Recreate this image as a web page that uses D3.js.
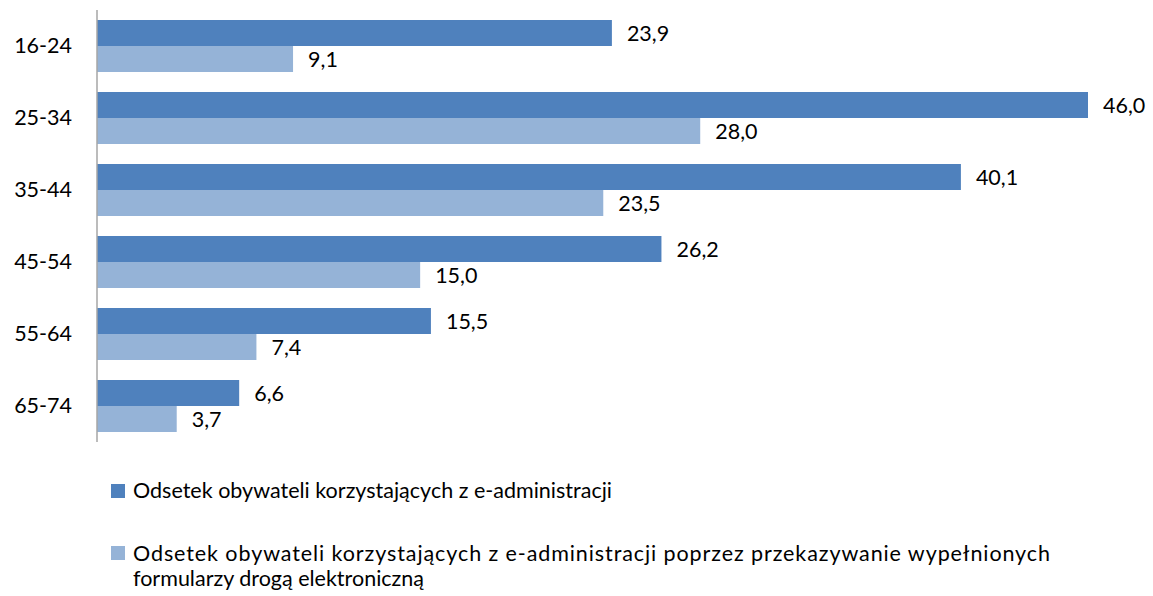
<!DOCTYPE html>
<html><head><meta charset="utf-8">
<script src="https://cdn.jsdelivr.net/npm/d3@7"></script>
<style>
html,body{margin:0;padding:0;background:#fff;}
text{font-family:Lato,"Open Sans",sans-serif;fill:#000;}
</style></head>
<body><svg id="c" width="1153" height="596"></svg>
<script>
const categories = ["16-24","25-34","35-44","45-54","55-64","65-74"];
const seriesNames = ["Odsetek obywateli korzystających z e-administracji",
  "Odsetek obywateli korzystających z e-administracji poprzez przekazywanie wypełnionych formularzy drogą elektroniczną"];
const series1 = [23.9,46.0,40.1,26.2,15.5,6.6];
const series2 = [9.1,28.0,23.5,15.0,7.4,3.7];
const colors = ["#4f81bd","#95b3d7"];

const svg = d3.select("#c");
const x = d3.scaleLinear().domain([0,46]).range([97,1088]);
const y = d3.scaleBand().domain(categories).range([10,442]).paddingInner(0.2778).paddingOuter(0.1389);
const sub = d3.scaleBand().domain([0,1]).range([0,y.bandwidth()]);
const fmt = v => d3.format(".1f")(v).replace(".",",");
const FS = 21.5;

const data = [series1, series2];
data.forEach((vals,si)=>{
  const g = svg.append("g");
  g.selectAll("rect").data(vals).join("rect")
    .attr("x", x(0)).attr("y",(d,i)=>y(categories[i])+sub(si))
    .attr("width", d=>x(d)-x(0)).attr("height", sub.bandwidth())
    .attr("fill", colors[si]);
  g.selectAll("text").data(vals).join("text")
    .attr("x", d=>x(d)+15).attr("y",(d,i)=>y(categories[i])+sub(si)+sub.bandwidth()/2)
    .attr("dy","0.36em").attr("font-size",FS).text(fmt);
});

const ax = svg.append("g").attr("transform","translate(97,0)")
  .call(d3.axisLeft(y).tickSize(0).tickPadding(25));
ax.select(".domain").attr("stroke","#a6a6a6").attr("stroke-width",1.5).attr("d","M0,10V442");
ax.selectAll("text").attr("font-size",FS).attr("font-family","Lato,'Open Sans',sans-serif").attr("fill","#000");

// legend
const leg = svg.append("g");
leg.append("rect").attr("x",111).attr("y",484).attr("width",14).attr("height",14).attr("fill",colors[0]);
leg.append("text").attr("x",133).attr("y",498).attr("font-size",FS)
  .attr("textLength",479).attr("lengthAdjust","spacing").text(seriesNames[0]);
leg.append("rect").attr("x",111).attr("y",546).attr("width",14).attr("height",14).attr("fill",colors[1]);
leg.append("text").attr("x",133).attr("y",561).attr("font-size",FS)
  .attr("textLength",917).attr("lengthAdjust","spacing")
  .text("Odsetek obywateli korzystających z e-administracji poprzez przekazywanie wypełnionych");
leg.append("text").attr("x",133).attr("y",586).attr("font-size",FS).text("formularzy drogą elektroniczną");
</script></body></html>
